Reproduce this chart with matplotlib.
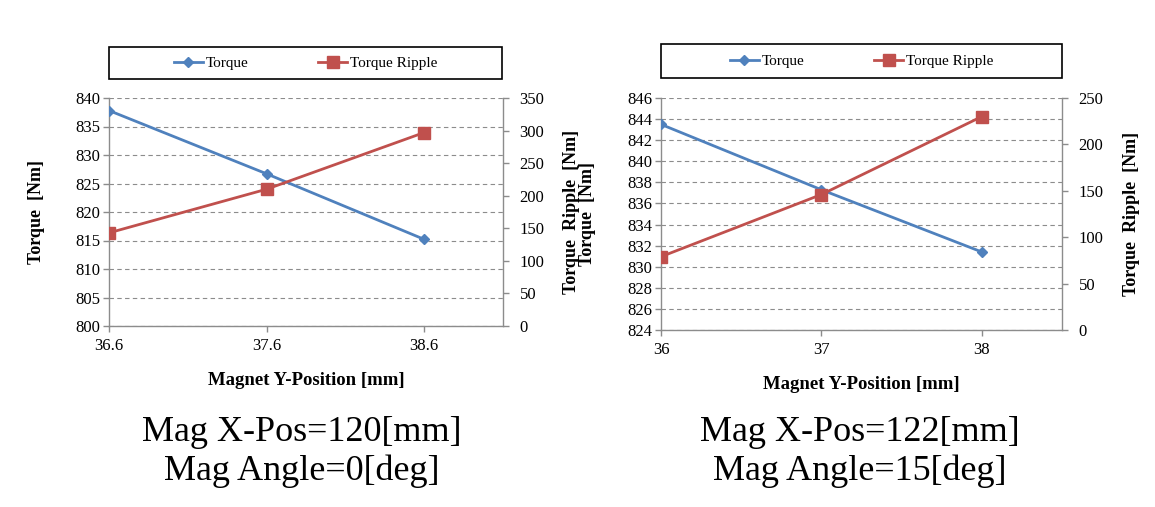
import matplotlib.pyplot as plt
from matplotlib.patches import Rectangle
from matplotlib.lines import Line2D

plt.rcParams['font.family'] = ['Liberation Serif', 'DejaVu Serif']

# Left chart data
pos_left = [36.6, 37.6, 38.6]
torque_left = [837.8, 826.7, 815.2]
ripple_left = [143, 210, 297]

# Right chart data
pos_right = [36, 37, 38]
torque_right = [843.5, 837.3, 831.4]
ripple_right = [79, 146, 230]

blue = '#4F81BD'
red = '#C0504D'
grey = '#8C8C8C'

W, H = 1155, 507
fig = plt.figure(figsize=(W / 100, H / 100), dpi=100)


def px_axes(x0, x1, y0, y1):
    return fig.add_axes([x0 / W, 1 - y1 / H, (x1 - x0) / W, (y1 - y0) / H])


def make_chart(ax, pos, torque, ripple, xlim, tlim, tstep, rlim, xtick_fmt,
               legend_box, caption, cap_x):
    ax2 = ax.twinx()
    ax.plot(pos, torque, color=blue, lw=2, marker='D', ms=5.5, zorder=3)
    ax2.plot(pos, ripple, color=red, lw=2, marker='s', ms=8, zorder=3)

    ax.set_xlim(*xlim)
    ax.set_ylim(*tlim)
    ax2.set_ylim(*rlim)
    ax.set_xticks(pos)
    ax.set_xticklabels([xtick_fmt.format(p) for p in pos])
    ax.set_yticks(list(range(tlim[0], tlim[1] + 1, tstep)))
    ax2.set_yticks(list(range(rlim[0], rlim[1] + 1, 50)))
    ax.yaxis.grid(True, ls=(0, (4, 3)), color=grey, lw=0.8)
    ax.set_axisbelow(True)

    for a in (ax, ax2):
        a.spines['top'].set_visible(False)
        for s in ('left', 'right', 'bottom'):
            a.spines[s].set_color(grey)
            a.spines[s].set_linewidth(1)
        a.tick_params(colors=grey, labelcolor='black', labelsize=12,
                      length=4, width=1, direction='out')
    ax2.spines['left'].set_visible(False)
    ax2.spines['bottom'].set_visible(False)
    ax.spines['right'].set_visible(False)
    ax.tick_params(axis='y', pad=2)
    ax.tick_params(axis='x', pad=5)
    ax2.tick_params(axis='y', pad=8)

    ax.set_ylabel('Torque  [Nm]', fontsize=13, fontweight='bold')
    ax.yaxis.set_label_coords(-0.162, 0.5)
    ax2.set_ylabel('Torque  Ripple  [Nm]', fontsize=13, fontweight='bold')
    ax2.yaxis.set_label_coords(1.152, 0.5)
    ax.set_xlabel('Magnet Y-Position [mm]', fontsize=13.5, fontweight='bold')
    ax.xaxis.set_label_coords(0.5, -0.2)

    # legend frame + entries
    x0, x1, y0, y1 = legend_box
    fig.patches.append(Rectangle((x0 / W, 1 - y1 / H), (x1 - x0) / W, (y1 - y0) / H,
                                 transform=fig.transFigure, fill=False,
                                 edgecolor='black', lw=1.2))
    handles = [Line2D([], [], color=blue, lw=2, marker='D', ms=5.5),
               Line2D([], [], color=red, lw=2, marker='s', ms=8)]
    fig.legend(handles, ['Torque', 'Torque Ripple'], ncol=2, frameon=False,
               loc='center', bbox_to_anchor=((x0 + x1) / 2 / W, 1 - (y0 + y1) / 2 / H),
               fontsize=11, handlelength=1.9, handletextpad=0.15,
               columnspacing=4.6)

    fig.text(cap_x / W, 1 - 441 / H, caption[0], ha='center', va='baseline',
             fontsize=26)
    fig.text(cap_x / W, 1 - 480 / H, caption[1], ha='center', va='baseline',
             fontsize=26)


ax_l = px_axes(109, 503, 98, 326)
make_chart(ax_l, pos_left, torque_left, ripple_left, (36.6, 39.1), (800, 840), 5,
           (0, 350), '{:.1f}', (109, 502, 47, 79),
           ('Mag X-Pos=120[mm]', 'Mag Angle=0[deg]'), 302)

ax_r = px_axes(661, 1062, 98, 330)
make_chart(ax_r, pos_right, torque_right, ripple_right, (36, 38.5), (824, 846), 2,
           (0, 250), '{:.0f}', (661, 1062, 44, 78),
           ('Mag X-Pos=122[mm]', 'Mag Angle=15[deg]'), 860)

fig.savefig('out.png', dpi=100)
